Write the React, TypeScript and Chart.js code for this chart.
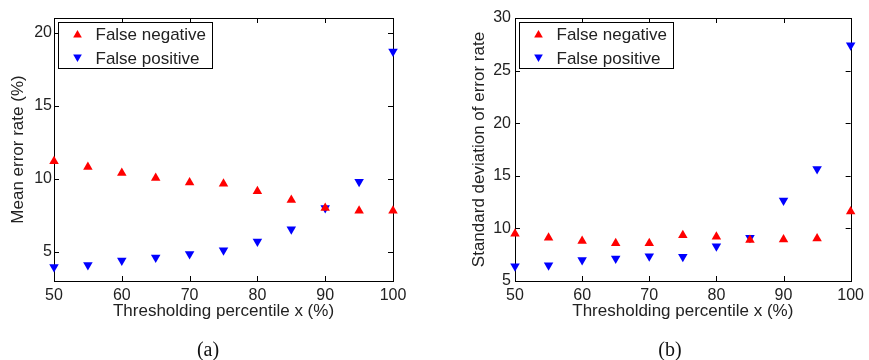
import React, { useEffect, useRef } from "react";
import { Chart, registerables } from "chart.js";

Chart.register(...registerables);

const thresholds = [50, 55, 60, 65, 70, 75, 80, 85, 90, 95, 100];
const meanFalseNegative = [11.2, 10.8, 10.4, 10.05, 9.75, 9.65, 9.15, 8.55, 8.0, 7.8, 7.8];
const meanFalsePositive = [3.95, 4.1, 4.4, 4.6, 4.85, 5.1, 5.7, 6.55, 8.0, 9.8, 18.7];
const stdFalseNegative = [9.5, 9.1, 8.8, 8.6, 8.6, 9.35, 9.2, 8.9, 8.95, 9.05, 11.6];
const stdFalsePositive = [6.4, 6.5, 7.0, 7.15, 7.35, 7.3, 8.3, 9.1, 12.65, 15.65, 27.4];
const xTicks = [50, 60, 70, 80, 90, 100];
const yTicksMean = [5, 10, 15, 20];
const yTicksStd = [5, 10, 15, 20, 25, 30];
const seriesLabels = ["False negative", "False positive"];
const xTitle = "Thresholding percentile x (%)";

const FONT = "'Liberation Sans', Arial, Helvetica, sans-serif";
const RED = "#ff0000";
const BLUE = "#0000ff";

const framePlugin = {
  id: "matlabFrame",
  beforeDatasetsDraw(chart: any) {
    const { ctx, chartArea: a, scales } = chart;
    ctx.save();
    ctx.strokeStyle = "#000";
    ctx.lineWidth = 1;
    ctx.strokeRect(Math.round(a.left) + 0.5, Math.round(a.top) + 0.5, Math.round(a.right - a.left), Math.round(a.bottom - a.top));
    const tl = 5;
    ctx.beginPath();
    for (const t of scales.x.ticks) {
      const px = Math.round(scales.x.getPixelForValue(t.value)) + 0.5;
      ctx.moveTo(px, a.bottom);
      ctx.lineTo(px, a.bottom - tl);
      ctx.moveTo(px, a.top);
      ctx.lineTo(px, a.top + tl);
    }
    for (const t of scales.y.ticks) {
      const py = Math.round(scales.y.getPixelForValue(t.value)) + 0.5;
      ctx.moveTo(a.left, py);
      ctx.lineTo(a.left + tl, py);
      ctx.moveTo(a.right, py);
      ctx.lineTo(a.right - tl, py);
    }
    ctx.stroke();
    ctx.restore();
  },
  afterDatasetsDraw(chart: any) {
    const { ctx, chartArea: a } = chart;
    const bx = Math.round(a.left) + 4.5;
    const by = Math.round(a.top) + 4.5;
    const bw = 154;
    const bh = 46;
    ctx.save();
    ctx.fillStyle = "#fff";
    ctx.fillRect(bx, by, bw, bh);
    ctx.strokeStyle = "#000";
    ctx.lineWidth = 1;
    ctx.strokeRect(bx, by, bw, bh);
    chart.data.datasets.forEach((ds: any, i: number) => {
      const cy = by + 11.5 + i * 24;
      ctx.fillStyle = ds.pointBackgroundColor;
      ctx.beginPath();
      const r = 5;
      const rot = (ds.pointRotation || 0) * Math.PI / 180;
      let rad = rot;
      const cx = bx + 19;
      const yy = cy + (rot ? -1 : 1);
      ctx.moveTo(cx + Math.sin(rad) * r, yy - Math.cos(rad) * r);
      rad += (2 * Math.PI) / 3;
      ctx.lineTo(cx + Math.sin(rad) * r, yy - Math.cos(rad) * r);
      rad += (2 * Math.PI) / 3;
      ctx.lineTo(cx + Math.sin(rad) * r, yy - Math.cos(rad) * r);
      ctx.closePath();
      ctx.fill();
      ctx.fillStyle = "#222";
      ctx.font = `17px ${FONT}`;
      ctx.textBaseline = "middle";
      ctx.textAlign = "left";
      ctx.fillText(ds.label, bx + 37, cy + 1);
    });
    ctx.restore();
  },
};

function ScatterPanel(props: {
  fn: number[];
  fp: number[];
  yTicks: number[];
  yMin: number;
  yMax: number;
  yTitle: string;
  yAxisWidth: number;
  padRight: number;
  yTitlePad: number;
  yTickPad: number;
  width: number;
}) {
  const ref = useRef<HTMLCanvasElement | null>(null);
  useEffect(() => {
    if (!ref.current) return;
    const mk = (vals: number[]) => thresholds.map((x, i) => ({ x, y: vals[i] }));
    const chart = new Chart(ref.current, {
      type: "scatter",
      data: {
        datasets: [
          {
            label: seriesLabels[0],
            data: mk(props.fn),
            pointStyle: "triangle",
            pointRadius: 5.5,
            pointBackgroundColor: RED,
            pointBorderColor: RED,
            pointBorderWidth: 0,
            clip: false,
          } as any,
          {
            label: seriesLabels[1],
            data: mk(props.fp),
            pointStyle: "triangle",
            pointRotation: 180,
            pointRadius: 5.5,
            pointBackgroundColor: BLUE,
            pointBorderColor: BLUE,
            pointBorderWidth: 0,
            clip: false,
          } as any,
        ],
      },
      options: {
        animation: false,
        responsive: false,
        maintainAspectRatio: false,
        layout: { padding: { top: 18, right: props.padRight, left: 0, bottom: 0 } },
        plugins: { legend: { display: false }, tooltip: { enabled: false } },
        scales: {
          x: {
            type: "linear",
            min: 50,
            max: 100,
            grid: { display: false, drawTicks: false },
            border: { display: false },
            afterBuildTicks: (s: any) => {
              s.ticks = xTicks.map((v) => ({ value: v }));
            },
            afterFit: (s: any) => {
              s.height = 41;
            },
            ticks: { color: "#222", font: { family: FONT, size: 16 }, padding: 5, maxRotation: 0, autoSkip: false },
            title: { display: true, text: xTitle, color: "#222", font: { family: FONT, size: 17 }, padding: 0 },
          },
          y: {
            type: "linear",
            min: props.yMin,
            max: props.yMax,
            grid: { display: false, drawTicks: false },
            border: { display: false },
            afterBuildTicks: (s: any) => {
              s.ticks = props.yTicks.map((v) => ({ value: v }));
            },
            afterFit: (s: any) => {
              s.width = props.yAxisWidth;
            },
            ticks: { color: "#222", font: { family: FONT, size: 16 }, padding: props.yTickPad, autoSkip: false },
            title: { display: true, text: props.yTitle, color: "#222", font: { family: FONT, size: 17 }, padding: { top: props.yTitlePad, bottom: 0 } },
          },
        },
      },
      plugins: [framePlugin],
    });
    return () => chart.destroy();
  }, []);
  return <canvas ref={ref} width={props.width} height={322} style={{ display: "block" }} />;
}

export default function App() {
  useEffect(() => {
    document.body.style.margin = "0";
  }, []);
  return (
    <div style={{ position: "fixed", left: 0, top: 0, width: 869, height: 360, background: "#fff" }}>
      <div style={{ position: "absolute", left: 0, top: 0 }}>
        <ScatterPanel
          fn={meanFalseNegative}
          fp={meanFalsePositive}
          yTicks={yTicksMean}
          yMin={3}
          yMax={21}
          yTitle="Mean error rate (%)"
          yAxisWidth={54}
          padRight={41}
          yTitlePad={8}
          yTickPad={2}
          width={434}
        />
      </div>
      <div style={{ position: "absolute", left: 440, top: 0 }}>
        <ScatterPanel
          fn={stdFalseNegative}
          fp={stdFalsePositive}
          yTicks={yTicksStd}
          yMin={5}
          yMax={30}
          yTitle="Standard deviation of error rate"
          yAxisWidth={75}
          padRight={16}
          yTitlePad={29}
          yTickPad={4}
          width={429}
        />
      </div>
      <div style={{ position: "absolute", left: 188, top: 338, width: 40, textAlign: "center", fontFamily: "'Liberation Serif', 'DejaVu Serif', serif", fontSize: 20, color: "#111" }}>(a)</div>
      <div style={{ position: "absolute", left: 650, top: 338, width: 40, textAlign: "center", fontFamily: "'Liberation Serif', 'DejaVu Serif', serif", fontSize: 20, color: "#111" }}>(b)</div>
    </div>
  );
}
